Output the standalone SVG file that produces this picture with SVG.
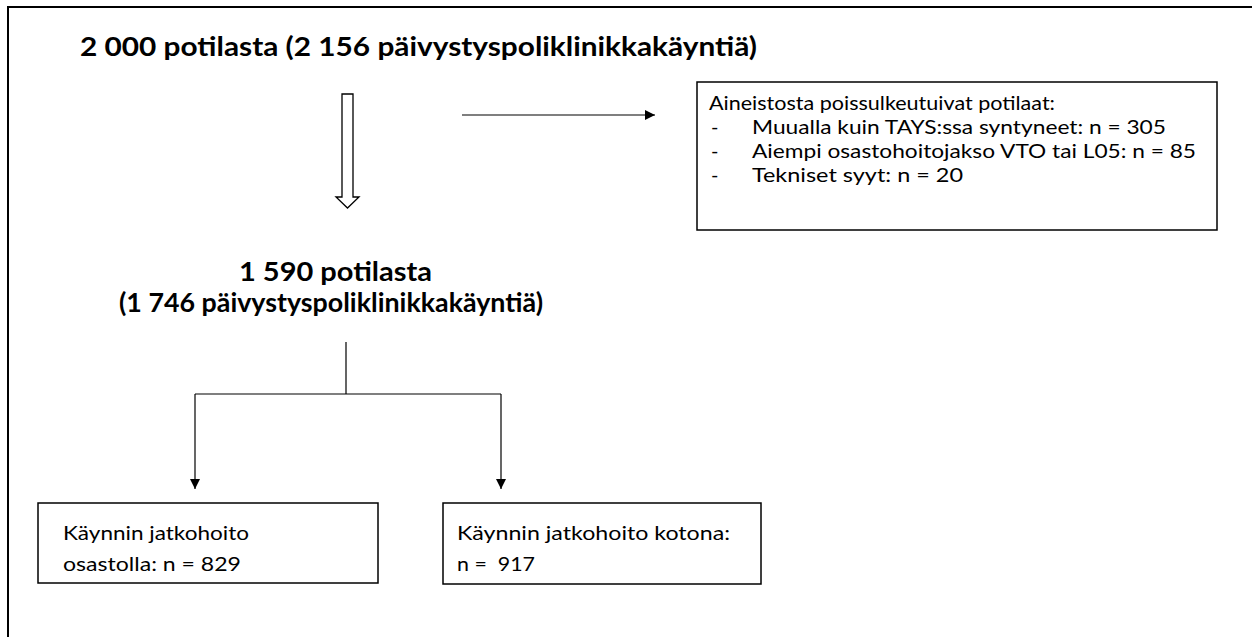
<svg xmlns="http://www.w3.org/2000/svg" width="1252" height="637" viewBox="0 0 1252 637">
<style>
.bold{font-family:Lato,"Open Sans","Liberation Sans",sans-serif;font-weight:bold;font-size:27px;fill:#000}
.body{font-family:Lato,"Open Sans","Liberation Sans",sans-serif;font-size:20px;fill:#000}
.box{fill:#fff;stroke:#000;stroke-width:1.5}
.ln{fill:none;stroke:#000;stroke-width:1.2}
</style>
<defs>
<marker id="ah" markerWidth="10" markerHeight="10" refX="10" refY="5" orient="auto" markerUnits="userSpaceOnUse">
<path d="M0,0 L10,5 L0,10 Z" fill="#000"/>
</marker>
</defs>
<rect width="1252" height="637" fill="#fff"/>
<path d="M8,637 V7 H1252" fill="none" stroke="#000" stroke-width="2"/>

<g id="title">
<text class="bold" x="80" y="56" textLength="677" lengthAdjust="spacingAndGlyphs">2 000 potilasta (2 156 päivystyspoliklinikkakäyntiä)</text>
</g>

<g id="included">
<text class="bold" x="239" y="281" textLength="193" lengthAdjust="spacingAndGlyphs">1 590 potilasta</text>
<text class="bold" x="119" y="312" textLength="424" lengthAdjust="spacingAndGlyphs">(1 746 päivystyspoliklinikkakäyntiä)</text>
</g>

<g id="excluded">
<rect class="box" x="697" y="82" width="520" height="148"/>
<text class="body" x="709" y="110" textLength="346" lengthAdjust="spacingAndGlyphs">Aineistosta poissulkeutuivat potilaat:</text>
<text class="body" x="711" y="134">-</text>
<text class="body" x="752" y="134" textLength="414" lengthAdjust="spacingAndGlyphs">Muualla kuin TAYS:ssa syntyneet: n = 305</text>
<text class="body" x="711" y="158">-</text>
<text class="body" x="752" y="158" textLength="444" lengthAdjust="spacingAndGlyphs">Aiempi osastohoitojakso VTO tai L05: n = 85</text>
<text class="body" x="711" y="182">-</text>
<text class="body" x="752" y="182" textLength="211" lengthAdjust="spacingAndGlyphs">Tekniset syyt: n = 20</text>
</g>

<g id="ward">
<rect class="box" x="38" y="503" width="340" height="80"/>
<text class="body" x="63" y="540" textLength="186" lengthAdjust="spacingAndGlyphs">Käynnin jatkohoito</text>
<text class="body" x="63" y="571" textLength="178" lengthAdjust="spacingAndGlyphs">osastolla: n = 829</text>
</g>

<g id="home">
<rect class="box" x="443" y="503" width="318" height="81"/>
<text class="body" x="457" y="540" textLength="273" lengthAdjust="spacingAndGlyphs">Käynnin jatkohoito kotona:</text>
<text class="body" x="457" y="571" xml:space="preserve" textLength="78" lengthAdjust="spacingAndGlyphs">n =  917</text>
</g>

<g id="connectors">
<polygon points="342,94 353,94 353,197 359,197 347.5,208 336,197 342,197" fill="#fff" stroke="#000" stroke-width="1.3"/>
<line class="ln" x1="462" y1="115" x2="655" y2="115" marker-end="url(#ah)"/>
<path class="ln" d="M346,342 V394 M195,394 H501"/>
<line class="ln" x1="195" y1="394" x2="195" y2="489" marker-end="url(#ah)"/>
<line class="ln" x1="501" y1="394" x2="501" y2="489" marker-end="url(#ah)"/>
</g>
</svg>
